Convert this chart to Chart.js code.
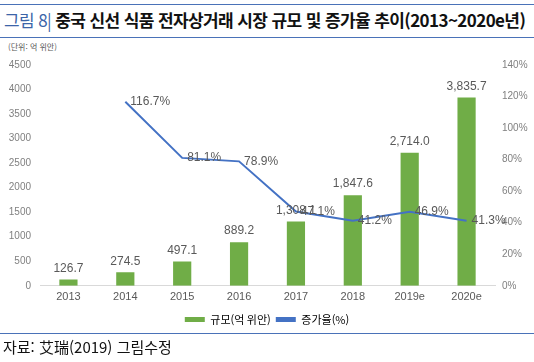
<!DOCTYPE html>
<html lang="ko">
<head>
<meta charset="utf-8">
<script src="https://cdn.jsdelivr.net/npm/chart.js@4/dist/chart.umd.min.js"></script>
<style>
  html, body { margin: 0; padding: 0; background: #fff; }
  body { width: 534px; height: 362px; position: relative; overflow: hidden;
         font-family: "Noto Sans CJK KR", "Noto Sans", sans-serif; }
  #topLine { position: absolute; left: 0; top: 4px; width: 534px; height: 1px; background: #4a72b8; }
  #title { position: absolute; left: 4px; top: 7px; font-size: 17px; font-weight: 700; color: #111; white-space: nowrap; letter-spacing: -0.6px; }
  #title .num { color: #3c64a8; font-weight: 400; }
  #ruleTop { position: absolute; left: 0; top: 37px; width: 534px; height: 1px; background: #4a72b8; }
  #unit { position: absolute; left: 8px; top: 41px; font-size: 8px; color: #555; }
  #chartBox { position: absolute; left: 0; top: 50px; width: 534px; height: 285px; }
  #ruleBottom { position: absolute; left: 0; top: 333px; width: 534px; height: 1px; background: #4a72b8; }
  #source { position: absolute; left: 3px; top: 336px; font-size: 15px; color: #111; white-space: nowrap; }
</style>
</head>
<body>
<div id="topLine"></div>
<div id="title"><span class="num">그림 8|</span> 중국 신선 식품 전자상거래 시장 규모 및 증가율 추이(2013~2020e년)</div>
<div id="ruleTop"></div>
<div id="unit">(단위: 억 위안)</div>
<div id="chartBox"><canvas id="grafico"></canvas></div>
<div id="ruleBottom"></div>
<div id="source">자료: 艾瑞(2019) 그림수정</div>

<script>
// Datos del gráfico
const anios = ['2013', '2014', '2015', '2016', '2017', '2018', '2019e', '2020e'];
const escala = [126.7, 274.5, 497.1, 889.2, 1308.1, 1847.6, 2714.0, 3835.7];
const crecimiento = [null, 116.7, 81.1, 78.9, 47.1, 41.2, 46.9, 41.3];
const ticksIzq = [0, 500, 1000, 1500, 2000, 2500, 3000, 3500, 4000, 4500];
const ticksDer = [0, 20, 40, 60, 80, 100, 120, 140];

const verde = '#70ad47';
const azul = '#4472c4';
const fuente = '"Liberation Sans", Arial, sans-serif';

// Plugin para dibujar las etiquetas de valores
const etiquetasPlugin = {
    id: 'etiquetas',
    afterDatasetsDraw(chart) {
        const ctx = chart.ctx;
        ctx.save();
        ctx.font = '12px ' + fuente;
        ctx.fillStyle = '#595959';

        // Etiquetas de barras
        const barras = chart.getDatasetMeta(0);
        barras.data.forEach((el, i) => {
            const v = escala[i];
            const txt = v.toLocaleString('en-US', { minimumFractionDigits: 1, maximumFractionDigits: 1 });
            ctx.textAlign = 'center';
            ctx.textBaseline = 'bottom';
            ctx.fillText(txt, el.x, el.y - 5);
        });

        // Etiquetas de la línea
        const linea = chart.getDatasetMeta(1);
        linea.data.forEach((el, i) => {
            const v = crecimiento[i];
            if (v === null) return;
            ctx.textAlign = 'left';
            ctx.textBaseline = 'middle';
            ctx.fillText(v.toFixed(1) + '%', el.x + 5, el.y);
        });
        ctx.restore();
    }
};

new Chart(document.getElementById('grafico'), {
    type: 'bar',
    data: {
        labels: anios,
        datasets: [
            {
                type: 'bar',
                label: '규모(억 위안)',
                data: escala,
                backgroundColor: verde,
                borderWidth: 0,
                barPercentage: 0.64,
                categoryPercentage: 0.5,
                yAxisID: 'y',
                order: 2
            },
            {
                type: 'line',
                label: '증가율(%)',
                data: crecimiento,
                borderColor: azul,
                backgroundColor: azul,
                borderWidth: 2,
                pointRadius: 0,
                tension: 0,
                fill: false,
                yAxisID: 'y1',
                order: 1
            }
        ]
    },
    options: {
        responsive: true,
        maintainAspectRatio: false,
        animation: false,
        layout: { padding: { top: 12, left: 0, right: 0, bottom: 0 } },
        scales: {
            x: {
                grid: { display: false, drawTicks: false },
                border: { display: true, color: '#d9d9d9' },
                ticks: {
                    color: '#595959',
                    font: { size: 11, family: fuente },
                    padding: 5
                }
            },
            y: {
                position: 'left',
                min: 0,
                max: 4500,
                afterBuildTicks: (ax) => { ax.ticks = ticksIzq.map(v => ({ value: v })); },
                afterFit: (ax) => { ax.width = 40; },
                grid: { display: false, drawTicks: false },
                border: { display: false },
                ticks: {
                    color: '#808080',
                    font: { size: 10, family: fuente },
                    padding: 9,
                    callback: (v) => String(v)
                }
            },
            y1: {
                position: 'right',
                min: 0,
                max: 140,
                afterBuildTicks: (ax) => { ax.ticks = ticksDer.map(v => ({ value: v })); },
                afterFit: (ax) => { ax.width = 39; },
                grid: { display: false, drawTicks: false },
                border: { display: false },
                ticks: {
                    color: '#808080',
                    font: { size: 10, family: fuente },
                    padding: 7,
                    callback: (v) => v + '%'
                }
            }
        },
        plugins: {
            legend: {
                position: 'bottom',
                labels: {
                    color: '#595959',
                    font: { size: 11, family: '"Noto Sans CJK KR", sans-serif' },
                    boxWidth: 20,
                    boxHeight: 5,
                    padding: 5,
                    generateLabels: (chart) => chart.data.datasets.map((ds, i) => ({
                        text: ds.label,
                        fillStyle: i === 0 ? verde : azul,
                        strokeStyle: i === 0 ? verde : azul,
                        lineWidth: 0,
                        datasetIndex: i
                    }))
                }
            },
            tooltip: { enabled: false }
        }
    },
    plugins: [etiquetasPlugin]
});
</script>
</body>
</html>
